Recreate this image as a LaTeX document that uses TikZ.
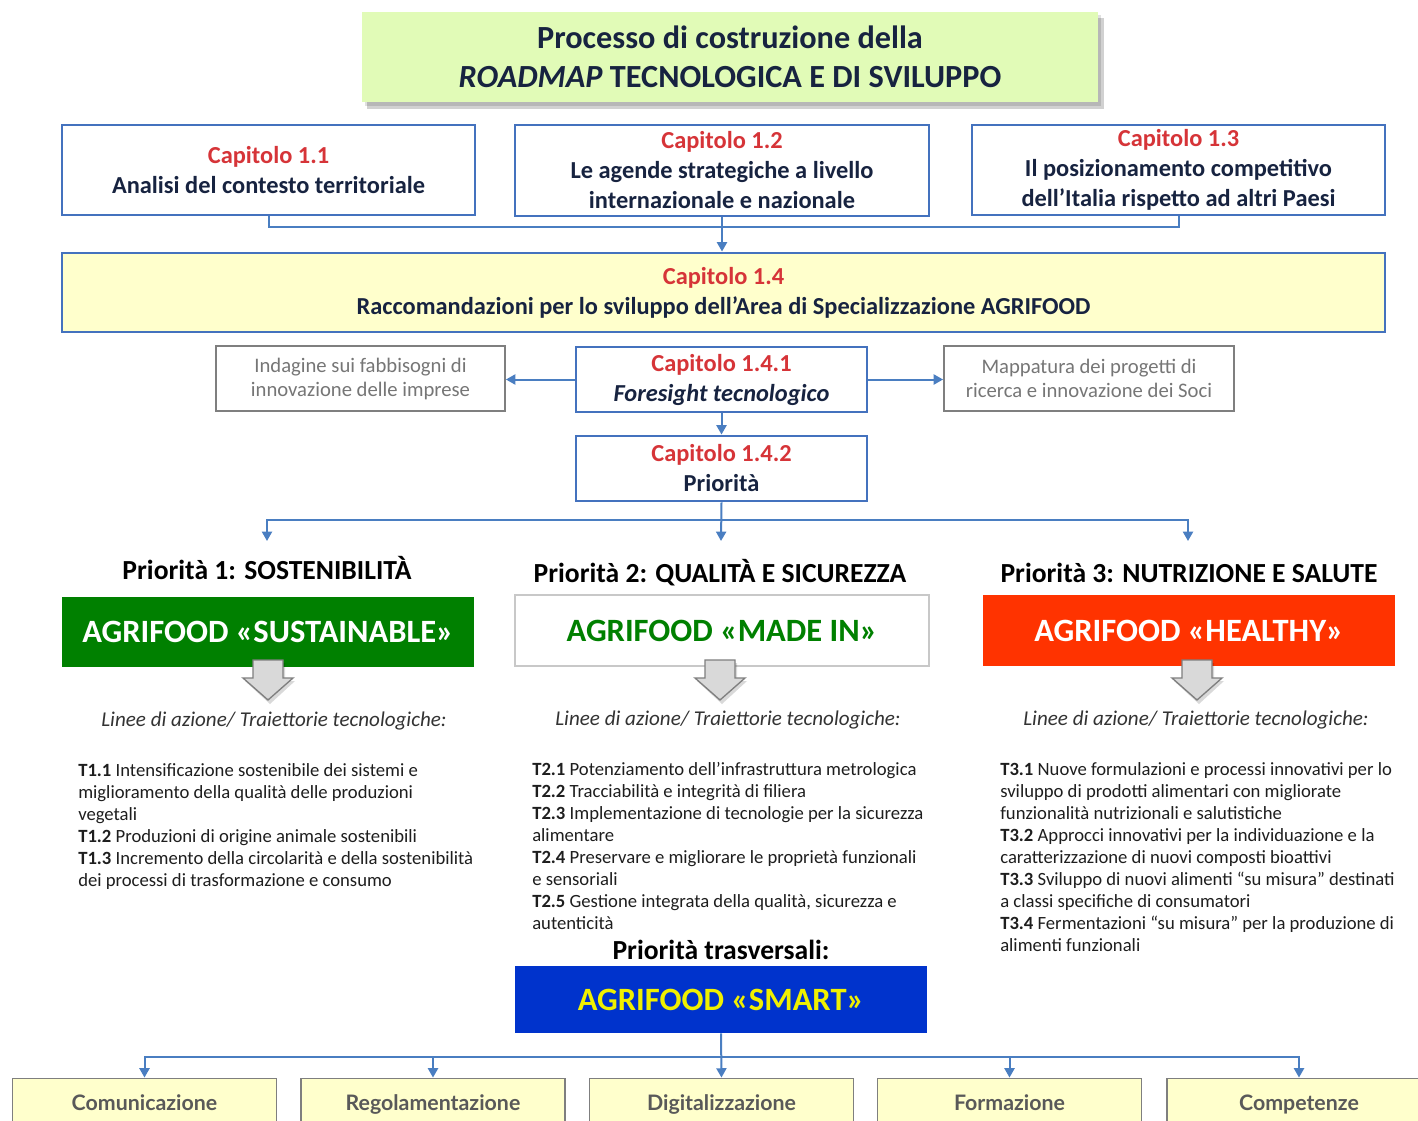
\documentclass[tikz,border=0pt]{standalone}
\usepackage{fontspec}
\setmainfont{Carlito}
\newfontfamily\latofont{Lato}
\usetikzlibrary{arrows.meta}
\definecolor{boxblue}{RGB}{68,114,190}
\definecolor{linec}{RGB}{74,126,193}
\definecolor{capred}{RGB}{214,52,56}
\definecolor{navy}{RGB}{23,35,64}
\definecolor{titlefill}{RGB}{225,251,183}
\definecolor{lightyellow}{RGB}{255,255,204}
\definecolor{greyline}{RGB}{127,127,127}
\definecolor{greytext}{RGB}{118,118,118}
\definecolor{darkgreytext}{RGB}{89,89,89}
\definecolor{agrigreen}{RGB}{0,128,0}
\definecolor{agrired}{RGB}{255,51,0}
\definecolor{agriblue}{RGB}{0,51,204}
\definecolor{agriyellow}{RGB}{240,240,0}
\definecolor{lightborder}{RGB}{200,200,200}
\definecolor{arrowfill}{RGB}{217,217,217}
\definecolor{listtext}{RGB}{30,30,30}
\begin{document}
\begin{tikzpicture}[x=0.75pt,y=-0.75pt,
  chap/.style={draw=boxblue, line width=2.2pt, fill=white, align=center, inner sep=0pt,
    text=navy, font=\fontsize{18.3}{22.5}\selectfont\bfseries},
  greybox/.style={draw=greyline, line width=1.4pt, fill=white, align=center, inner sep=0pt,
    text=greytext, font=\fontsize{15.5}{18}\selectfont},
  agri/.style={inner sep=0pt, align=center, font=\fontsize{24.4}{28}\selectfont\bfseries},
  prio/.style={inner sep=0pt, text=black, font=\fontsize{20.7}{24}\selectfont\bfseries},
  linee/.style={inner sep=0pt, text=black!80, font=\fontsize{15.8}{18}\selectfont\itshape},
  lista/.style={inner sep=0pt, align=left, anchor=north west, text=listtext,
    font=\fontsize{14}{16.5}\selectfont},
  bottombox/.style={draw=greyline, line width=1.4pt, fill=lightyellow, inner sep=0pt,
    minimum width=198pt, minimum height=42.75pt, text=darkgreytext, text height=9pt, text depth=4pt,
    font=\latofont\fontsize{16}{18}\selectfont\bfseries},
  conn/.style={draw=linec, line width=1.5pt, -{Triangle[width=7.5pt,length=7pt]}},
  plain/.style={draw=linec, line width=1.5pt}
]
\useasboundingbox (0,0) rectangle (1418,1121);
\clip (0,0) rectangle (1418,1121);
\fill[white] (0,0) rectangle (1418,1121);

% title with shadow
\fill[black, opacity=0.18] (367,18) rectangle (1104,109);
\fill[black, opacity=0.12] (365,15) rectangle (1101,106);
\node[fill=titlefill, minimum width=552pt, minimum height=67.5pt, inner sep=0pt, align=center,
  text=navy, font=\fontsize{24.2}{29}\selectfont\bfseries] (title) at (730,56.5)
  {Processo di costruzione della\\ \textit{ROADMAP} TECNOLOGICA E DI SVILUPPO};

% chapter boxes
\node[chap, minimum width=309.75pt, minimum height=67.5pt] (c11) at (268.5,170)
  {\textcolor{capred}{Capitolo 1.1}\\Analisi del contesto territoriale};
\node[chap, minimum width=310.5pt, minimum height=68.25pt] (c12) at (722,170.5)
  {\textcolor{capred}{Capitolo 1.2}\\Le agende strategiche a livello\\internazionale e nazionale};
\node[chap, minimum width=309.75pt, minimum height=67.5pt] (c13) at (1178.5,170)
  {\textcolor{capred}{Capitolo 1.3}\\Il posizionamento competitivo\\dell’Italia rispetto ad altri Paesi};

\draw[plain] (c11.south) -- ++(0,11) -| (c13.south);

\node[chap, fill=lightyellow, minimum width=992.25pt, minimum height=59.25pt] (c14) at (723.5,292.5)
  {\textcolor{capred}{Capitolo 1.4}\\Raccomandazioni per lo sviluppo dell’Area di Specializzazione AGRIFOOD};
\draw[conn] (c12.south) -- (c14.north -| c12.south);

% foresight row
\node[greybox, minimum width=216.75pt, minimum height=48.75pt] (gl) at (360.5,378.5)
  {Indagine sui fabbisogni di\\innovazione delle imprese};
\node[greybox, minimum width=217.5pt, minimum height=48.75pt] (gr) at (1089,378.5)
  {Mappatura dei progetti di\\ricerca e innovazione dei Soci};
\node[chap, minimum width=218.25pt, minimum height=48.75pt] (c141) at (721.5,379.5)
  {\textcolor{capred}{Capitolo 1.4.1}\\\textit{Foresight tecnologico}};
\node[chap, minimum width=218.25pt, minimum height=48.75pt] (c142) at (721.5,468.5)
  {\textcolor{capred}{Capitolo 1.4.2}\\Priorità};

\draw[conn] (c141.west) -- (c141.west -| gl.east);
\draw[conn] (c141.east) -- (c141.east -| gr.west);
\draw[conn] (c141.south) -- (c142.north);

\coordinate (hb) at (721,520);
\coordinate (p1) at (267,541);
\coordinate (p2) at (721,541);
\coordinate (p3) at (1188,541);
\draw[conn] (c142.south) -- (p2);
\draw[conn] (hb) -| (p1);
\draw[conn] (hb) -| (p3);

% priority headings
\node[prio] (h1) at (267,568) {Priorità 1: SOSTENIBILITÀ};
\node[prio] (h2) at (720,573) {Priorità 2: QUALITÀ E SICUREZZA};
\node[prio] (h3) at (1189,573) {Priorità 3: NUTRIZIONE E SALUTE};

% agrifood boxes
\node[agri, fill=agrigreen, text=white, minimum width=309pt, minimum height=52.5pt] (sust) at (268,632)
  {AGRIFOOD «SUSTAINABLE»};
\node[agri, draw=lightborder, line width=2pt, fill=white, text=agrigreen, minimum width=310.5pt, minimum height=53.25pt] (made) at (722,630.5)
  {AGRIFOOD «MADE IN»};
\node[agri, fill=agrired, text=white, minimum width=309pt, minimum height=53.25pt] (healthy) at (1189,630.5)
  {AGRIFOOD «HEALTHY»};

% block arrows
\foreach \cx in {268,720,1197}{
  \fill[black, opacity=0.15] (\cx-13,663) -- (\cx+17,663) -- (\cx+17,681) -- (\cx+27,681)
    -- (\cx+2,704) -- (\cx-23,681) -- (\cx-13,681) -- cycle;
  \draw[greyline, fill=arrowfill, line width=1pt] (\cx-15,660) -- (\cx+15,660) -- (\cx+15,678) -- (\cx+25,678)
    -- (\cx,700) -- (\cx-25,678) -- (\cx-15,678) -- cycle;
}

% linee
\node[linee] (l1) at (274,721) {Linee di azione/ Traiettorie tecnologiche:};
\node[linee] (l2) at (728,720) {Linee di azione/ Traiettorie tecnologiche:};
\node[linee] (l3) at (1196,720) {Linee di azione/ Traiettorie tecnologiche:};

% lists
\node[lista] (t1) at (78,763) {\textbf{T1.1} Intensificazione sostenibile dei sistemi e\\
miglioramento della qualità delle produzioni\\
vegetali\\
\textbf{T1.2} Produzioni di origine animale sostenibili\\
\textbf{T1.3} Incremento della circolarità e della sostenibilità\\
dei processi di trasformazione e consumo};
\node[lista] (t2) at (532,762) {\textbf{T2.1} Potenziamento dell’infrastruttura metrologica\\
\textbf{T2.2} Tracciabilità e integrità di filiera\\
\textbf{T2.3} Implementazione di tecnologie per la sicurezza\\
alimentare\\
\textbf{T2.4} Preservare e migliorare le proprietà funzionali\\
e sensoriali\\
\textbf{T2.5} Gestione integrata della qualità, sicurezza e\\
autenticità};
\node[lista] (t3) at (1000,762) {\textbf{T3.1} Nuove formulazioni e processi innovativi per lo\\
sviluppo di prodotti alimentari con migliorate\\
funzionalità nutrizionali e salutistiche\\
\textbf{T3.2} Approcci innovativi per la individuazione e la\\
caratterizzazione di nuovi composti bioattivi\\
\textbf{T3.3} Sviluppo di nuovi alimenti “su misura” destinati\\
a classi specifiche di consumatori\\
\textbf{T3.4} Fermentazioni “su misura” per la produzione di\\
alimenti funzionali};

% smart
\node[prio] (htr) at (721,950) {Priorità trasversali:};
\node[agri, fill=agriblue, text=agriyellow, minimum width=309pt, minimum height=50.25pt] (smart) at (721,999.5)
  {AGRIFOOD «SMART»};

% bottom boxes
\node[bottombox] (b1) at (144.5,1107) {Comunicazione};
\node[bottombox] (b2) at (433,1107) {Regolamentazione};
\node[bottombox] (b3) at (721.5,1107) {Digitalizzazione};
\node[bottombox] (b4) at (1009.5,1107) {Formazione};
\node[bottombox] (b5) at (1299,1107) {Competenze};

\coordinate (hb2) at (721,1057);
\draw[conn] (smart.south) -- (b3.north);
\draw[conn] (hb2) -| (b1.north);
\draw[conn] (hb2) -| (b2.north);
\draw[conn] (hb2) -| (b4.north);
\draw[conn] (hb2) -| (b5.north);
\end{tikzpicture}
\end{document}
